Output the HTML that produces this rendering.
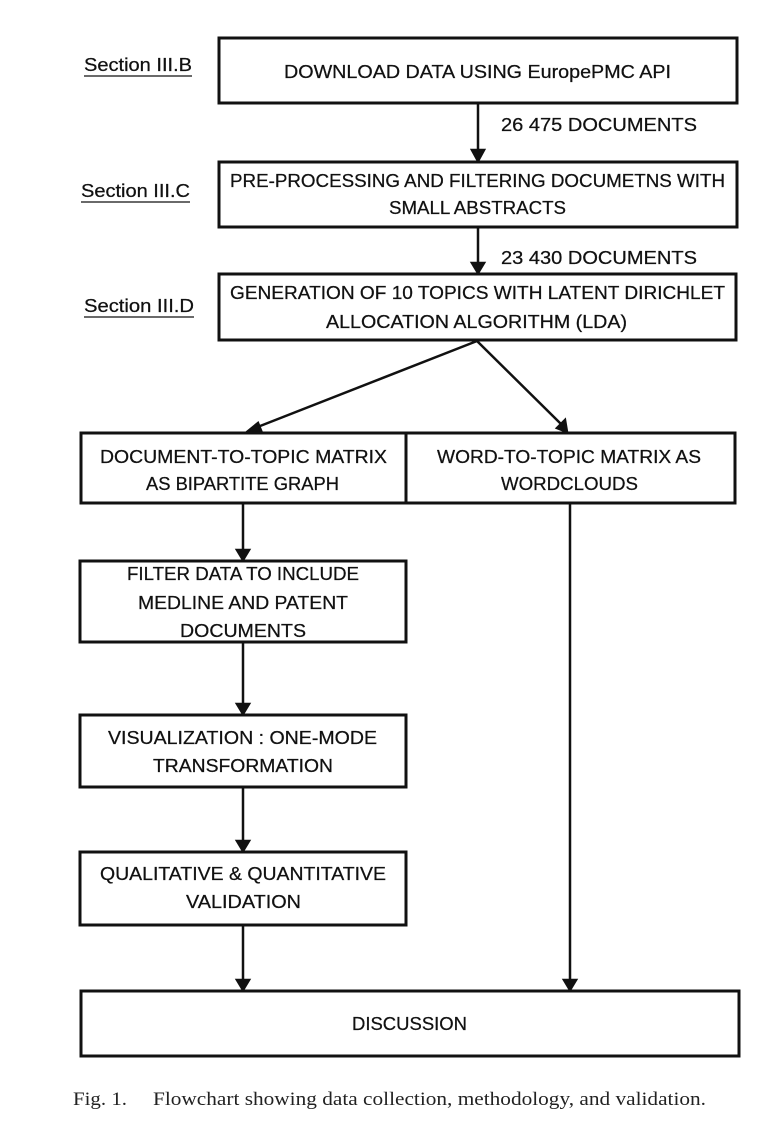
<!DOCTYPE html>
<html><head><meta charset="utf-8"><style>
html,body{margin:0;padding:0;background:#fff;}
svg{display:block;}
text{font-family:"Liberation Sans",sans-serif;font-size:18.5px;fill:#111;stroke:#111;stroke-width:0.25;}
.c{font-family:"Liberation Serif",serif;font-size:19px;stroke:none;fill:#222;}
</style></head><body>
<svg width="758" height="1128" viewBox="0 0 758 1128" xmlns="http://www.w3.org/2000/svg">
<g fill="none" stroke="#111" stroke-width="3">
<rect x="219" y="38" width="518" height="65"/>
<rect x="219" y="162" width="518" height="65"/>
<rect x="219" y="274" width="517" height="66"/>
<rect x="81" y="433" width="654" height="70"/>
<line x1="406" y1="433" x2="406" y2="503"/>
<rect x="80" y="561" width="326" height="81"/>
<rect x="80" y="715" width="326" height="72"/>
<rect x="80" y="852" width="326" height="73"/>
<rect x="81" y="991" width="658" height="65"/>
</g>
<g stroke="#111" stroke-width="2.5" fill="none">
<line x1="478" y1="103" x2="478" y2="152"/><path d="M472,150 L478,161 L484,150 z" fill="#111"/>
<line x1="478" y1="227" x2="478" y2="264"/><path d="M472,263 L478,273 L484,263 z" fill="#111"/>
<line x1="477" y1="341" x2="255" y2="428"/><path d="M247,432 L258,423 L262,433 z" fill="#111"/>
<line x1="477" y1="341" x2="561" y2="424"/><path d="M567,432 L557,428 L565,420 z" fill="#111"/>
<line x1="243" y1="503" x2="243" y2="551"/><path d="M237,550 L243,560 L249,550 z" fill="#111"/>
<line x1="243" y1="642" x2="243" y2="705"/><path d="M237,704 L243,714 L249,704 z" fill="#111"/>
<line x1="243" y1="787" x2="243" y2="842"/><path d="M237,841 L243,851 L249,841 z" fill="#111"/>
<line x1="243" y1="925" x2="243" y2="981"/><path d="M237,980 L243,990 L249,980 z" fill="#111"/>
<line x1="570" y1="503" x2="570" y2="981"/><path d="M564,980 L570,990 L576,980 z" fill="#111"/>
</g>
<g>
<text x="84" y="71" textLength="108" lengthAdjust="spacingAndGlyphs">Section III.B</text>
<line x1="84" y1="76" x2="192" y2="76" stroke="#111" stroke-width="1.3"/>
<text x="81" y="197" textLength="109" lengthAdjust="spacingAndGlyphs">Section III.C</text>
<line x1="81" y1="202" x2="190" y2="202" stroke="#111" stroke-width="1.3"/>
<text x="84" y="312" textLength="110" lengthAdjust="spacingAndGlyphs">Section III.D</text>
<line x1="84" y1="317" x2="194" y2="317" stroke="#111" stroke-width="1.3"/>

<text x="284" y="78" textLength="387" lengthAdjust="spacingAndGlyphs">DOWNLOAD DATA USING EuropePMC API</text>
<text x="501" y="131" textLength="196" lengthAdjust="spacingAndGlyphs">26 475 DOCUMENTS</text>
<text x="230" y="187" textLength="495" lengthAdjust="spacingAndGlyphs">PRE-PROCESSING AND FILTERING DOCUMETNS WITH</text>
<text x="389" y="214" textLength="177" lengthAdjust="spacingAndGlyphs">SMALL ABSTRACTS</text>
<text x="501" y="264" textLength="196" lengthAdjust="spacingAndGlyphs">23 430 DOCUMENTS</text>
<text x="230" y="299" textLength="495" lengthAdjust="spacingAndGlyphs">GENERATION OF 10 TOPICS  WITH LATENT DIRICHLET</text>
<text x="326" y="328" textLength="301" lengthAdjust="spacingAndGlyphs">ALLOCATION ALGORITHM  (LDA)</text>
<text x="100" y="463" textLength="287" lengthAdjust="spacingAndGlyphs">DOCUMENT-TO-TOPIC MATRIX</text>
<text x="146" y="490" textLength="193" lengthAdjust="spacingAndGlyphs">AS BIPARTITE GRAPH</text>
<text x="437" y="463" textLength="264" lengthAdjust="spacingAndGlyphs">WORD-TO-TOPIC MATRIX AS</text>
<text x="501" y="490" textLength="137" lengthAdjust="spacingAndGlyphs">WORDCLOUDS</text>
<text x="127" y="580" textLength="232" lengthAdjust="spacingAndGlyphs">FILTER DATA TO INCLUDE</text>
<text x="138" y="609" textLength="210" lengthAdjust="spacingAndGlyphs">MEDLINE AND PATENT</text>
<text x="180" y="637" textLength="126" lengthAdjust="spacingAndGlyphs">DOCUMENTS</text>
<text x="108" y="744" textLength="269" lengthAdjust="spacingAndGlyphs">VISUALIZATION : ONE-MODE</text>
<text x="153" y="772" textLength="180" lengthAdjust="spacingAndGlyphs">TRANSFORMATION</text>
<text x="100" y="880" textLength="286" lengthAdjust="spacingAndGlyphs">QUALITATIVE &amp; QUANTITATIVE</text>
<text x="186" y="908" textLength="115" lengthAdjust="spacingAndGlyphs">VALIDATION</text>
<text x="352" y="1030" textLength="115" lengthAdjust="spacingAndGlyphs">DISCUSSION</text>
<text class="c" x="73" y="1105" textLength="54" lengthAdjust="spacingAndGlyphs">Fig. 1.</text>
<text class="c" x="153" y="1105" textLength="553" lengthAdjust="spacingAndGlyphs">Flowchart showing data collection, methodology, and validation.</text>
</g>
</svg>
</body></html>
